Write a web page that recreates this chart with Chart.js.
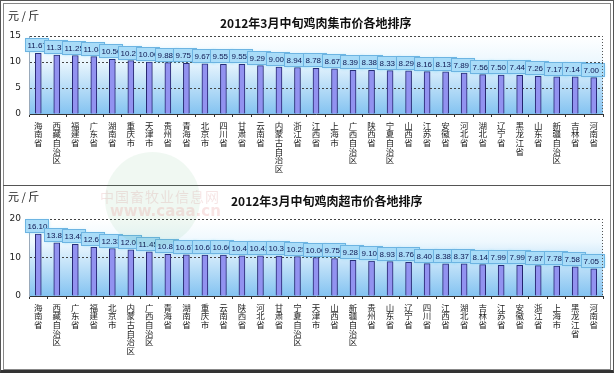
<!DOCTYPE html>
<html>
<head>
<meta charset="utf-8">
<script src="https://cdn.jsdelivr.net/npm/chart.js@4"></script>
<style>
  html, body { margin: 0; padding: 0; background: #fff; }
  #wrap { position: relative; width: 614px; height: 373px; overflow: hidden; font-family: "Noto Sans CJK SC", sans-serif; }
  .frame { position: absolute; box-sizing: border-box; }
  .panel { position: absolute; left: 4px; width: 604px; }
  .unit { position: absolute; left: 8px; font-size: 11px; color: #222; }
  .title { position: absolute; font-size: 12px; font-weight: bold; color: #111; white-space: nowrap; }
  .wm { position: absolute; pointer-events: none; white-space: nowrap; }
</style>
</head>
<body>
<div id="wrap">
  <div class="frame" style="left:0;top:0;width:614px;height:373px;border:1px solid #555;border-bottom:3px solid #333;"></div>
  <div class="frame" style="left:3px;top:3px;width:608px;height:367px;border:1px solid #888;"></div>
  <div class="frame" style="left:3px;top:185px;width:608px;height:1px;background:#555;"></div>

  <div class="panel" style="top:4px;height:181px;"><canvas id="market"></canvas></div>
  <div class="panel" style="top:186px;height:182px;"><canvas id="super"></canvas></div>

  <div class="unit" style="top:7px;">元 / 斤</div>
  <div class="title" style="left:220px;top:14px;">2012年3月中旬鸡肉集市价各地排序</div>
  <div class="unit" style="top:188px;">元 / 斤</div>
  <div class="title" style="left:231px;top:192px;">2012年3月中旬鸡肉超市价各地排序</div>

  <div class="wm" style="left:105px;top:152px;width:95px;height:95px;border-radius:50%;background:rgba(70,165,95,0.08);"></div>
  <div class="wm" style="left:100px;top:186px;font-size:14px;color:rgba(190,70,70,0.14);letter-spacing:1px;">中国畜牧业信息网</div>
  <div class="wm" style="left:110px;top:202px;font-size:15px;font-weight:bold;color:rgba(220,90,90,0.16);font-family:'DejaVu Sans',sans-serif;">www.caaa.cn</div>
</div>

<script>
const marketCities = ["海南省", "西藏自治区", "福建省", "广东省", "湖南省", "重庆市", "天津市", "贵州省", "青海省", "北京市", "四川省", "甘肃省", "云南省", "内蒙古自治区", "浙江省", "江西省", "上海市", "广西自治区", "陕西省", "宁夏自治区", "山西省", "江苏省", "安徽省", "河北省", "湖北省", "辽宁省", "黑龙江省", "山东省", "新疆自治区", "吉林省", "河南省"];
const marketPrices = [11.67, 11.33, 11.25, 11.04, 10.50, 10.27, 10.00, 9.88, 9.75, 9.67, 9.55, 9.55, 9.29, 9.00, 8.94, 8.78, 8.67, 8.39, 8.38, 8.33, 8.29, 8.16, 8.13, 7.89, 7.56, 7.50, 7.44, 7.26, 7.17, 7.14, 7.00];
const marketTicks = [0, 5, 10, 15];

const superCities = ["海南省", "西藏自治区", "广东省", "福建省", "北京市", "内蒙古自治区", "广西自治区", "青海省", "湖南省", "重庆市", "云南省", "陕西省", "河北省", "甘肃省", "宁夏自治区", "天津市", "山西省", "新疆自治区", "贵州省", "山东省", "辽宁省", "四川省", "江西省", "湖北省", "吉林省", "江苏省", "安徽省", "浙江省", "上海市", "黑龙江省", "河南省"];
const superPrices = [16.10, 13.83, 13.45, 12.67, 12.33, 12.00, 11.45, 10.83, 10.67, 10.63, 10.60, 10.45, 10.42, 10.38, 10.25, 10.00, 9.75, 9.28, 9.10, 8.93, 8.76, 8.40, 8.38, 8.37, 8.14, 7.99, 7.99, 7.87, 7.78, 7.58, 7.05];
const superTicks = [0, 10, 20];

// plot background + dotted right edge
const plotBg = {
  id: "plotBg",
  beforeDraw(chart) {
    const { ctx, chartArea: a } = chart;
    const g = ctx.createLinearGradient(0, a.top, 0, a.bottom);
    g.addColorStop(0, "#ffffff");
    g.addColorStop(0.3, "#eef8fe");
    g.addColorStop(1, "#84c3f1");
    ctx.save();
    ctx.fillStyle = g;
    ctx.fillRect(a.left, a.top, a.right - a.left, a.bottom - a.top);
    ctx.restore();
  },
  afterDraw(chart) {
    const { ctx, chartArea: a } = chart;
    ctx.save();
    ctx.strokeStyle = "#555";
    ctx.setLineDash([1, 2]);
    ctx.beginPath();
    ctx.moveTo(a.right - 0.5, a.top);
    ctx.lineTo(a.right - 0.5, a.bottom);
    ctx.stroke();
    ctx.restore();
  }
};

// value boxes drawn left to right so each box covers the overflow of the one before
const valueBoxes = {
  id: "valueBoxes",
  afterDatasetsDraw(chart) {
    const { ctx } = chart;
    const meta = chart.getDatasetMeta(0);
    const values = chart.data.datasets[0].data;
    ctx.save();
    meta.data.forEach((bar, i) => {
      const left = Math.round(bar.x) - 12.5;
      const top = Math.round(bar.y) - 14.5;
      ctx.shadowColor = "rgba(110,215,250,0.7)";
      ctx.shadowBlur = 3;
      ctx.fillStyle = "#a9dcf8";
      ctx.fillRect(left, top, 23, 13);
      ctx.shadowBlur = 0;
      ctx.strokeStyle = "#6db4e2";
      ctx.lineWidth = 1;
      ctx.strokeRect(left, top, 23, 13);
      ctx.fillStyle = "#0e1650";
      ctx.font = '8px "Liberation Sans", sans-serif';
      ctx.textBaseline = "middle";
      ctx.textAlign = "left";
      ctx.fillText(values[i].toFixed(2), left + 2, top + 7);
    });
    ctx.restore();
  }
};

function makeChart(id, cities, prices, ticks, topPad, axisHeight) {
  const max = ticks[ticks.length - 1];
  new Chart(document.getElementById(id), {
    type: "bar",
    data: {
      labels: cities.map((c) => c.split("")),
      datasets: [
        {
          data: prices,
          backgroundColor: "#9292f0",
          borderColor: "#23236e",
          borderWidth: 1,
          barThickness: 6,
        },
      ],
    },
    options: {
      responsive: true,
      maintainAspectRatio: false,
      animation: false,
      layout: { padding: { top: topPad, right: 5, left: 0, bottom: 0 } },
      plugins: { legend: { display: false }, tooltip: { enabled: false } },
      scales: {
        x: {
          grid: { offset: true, drawOnChartArea: false, tickLength: 3, color: "#333" },
          border: { color: "#333", width: 1 },
          ticks: {
            autoSkip: false,
            maxRotation: 0,
            minRotation: 0,
            padding: 4,
            color: "#222",
            font: { family: '"Noto Sans CJK SC"', size: 8.5, lineHeight: 1.02 },
          },
          afterFit(scale) { scale.height = axisHeight; },
        },
        y: {
          min: 0,
          max: max,
          afterBuildTicks(scale) { scale.ticks = ticks.map((v) => ({ value: v })); },
          grid: {
            color: (c) => (c.tick && c.tick.value === 0 ? "rgba(0,0,0,0)" : "#444"),
            drawTicks: false,
          },
          border: { display: true, color: "#9ab", dash: [2, 2], width: 1 },
          ticks: {
            padding: 8,
            color: "#222",
            font: { family: '"DejaVu Sans"', size: 9 },
          },
          afterFit(scale) { scale.width = 25; },
        },
      },
    },
    plugins: [plotBg, valueBoxes],
  });
}

makeChart("market", marketCities, marketPrices, marketTicks, 32, 71);
makeChart("super", superCities, superPrices, superTicks, 33, 72);
</script>
</body>
</html>
